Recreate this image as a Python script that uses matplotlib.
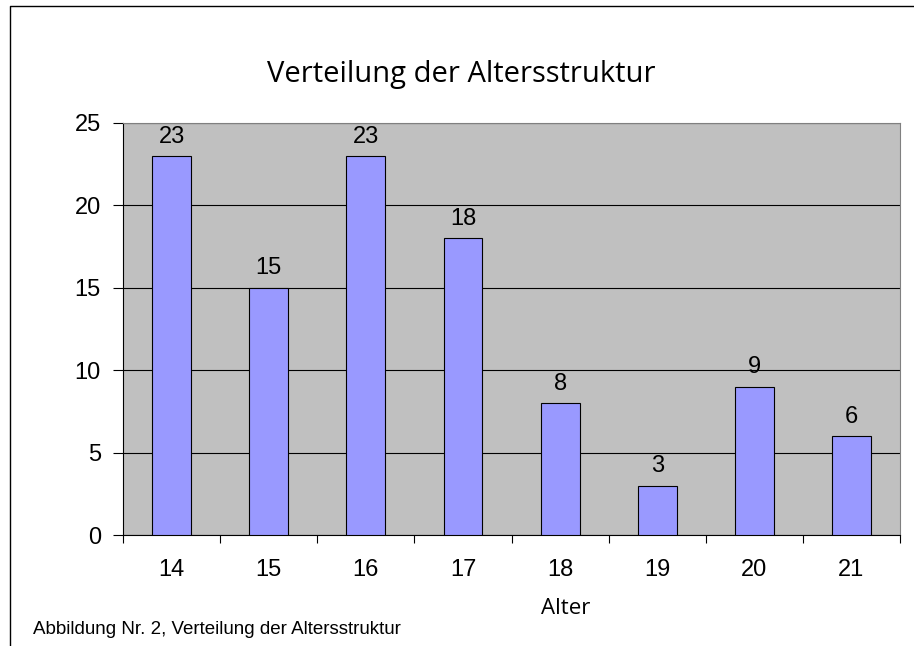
import matplotlib
matplotlib.use("Agg")
import matplotlib.pyplot as plt
from matplotlib.lines import Line2D

# Daten: Altersstruktur
alter = ["14", "15", "16", "17", "18", "19", "20", "21"]
anzahl = [23, 15, 23, 18, 8, 3, 9, 6]

fig = plt.figure(figsize=(9.14, 6.46), dpi=100)
ax = fig.add_axes([0.1346, 0.1718, 0.8501, 0.6378])

x = range(len(alter))
bars = ax.bar(x, anzahl, width=0.4, color="#9999FF", edgecolor="black", linewidth=0.8, zorder=3)

for b, v in zip(bars, anzahl):
    ax.annotate(str(v), (b.get_x() + b.get_width() / 2, v), xytext=(0, 6),
                textcoords="offset points", ha="center", va="bottom",
                fontsize=17, family="Liberation Sans")

ax.set_facecolor("#C0C0C0")
ax.set_xlim(-0.5, len(alter) - 0.5)
ax.set_ylim(0, 25)
ax.set_yticks([0, 5, 10, 15, 20, 25])
ax.yaxis.grid(True, color="black", linewidth=0.8, zorder=1)
ax.set_axisbelow(True)

# x-Ticks zwischen den Kategorien, Beschriftung mittig
ax.set_xticks([i - 0.5 for i in range(len(alter) + 1)])
ax.set_xticklabels([])
ax.set_xticks(list(x), minor=True)
ax.set_xticklabels(alter, minor=True, fontsize=17, family="Liberation Sans")
ax.tick_params(axis="x", which="major", length=6, direction="out", width=0.8)
ax.tick_params(axis="x", which="minor", length=0, pad=17)
ax.tick_params(axis="y", length=7, width=0.8, labelsize=17, pad=9)
for lbl in ax.get_yticklabels():
    lbl.set_family("Liberation Sans")

ax.spines["left"].set_color("black")
ax.spines["bottom"].set_color("black")
ax.spines["top"].set_color("#808080")
ax.spines["right"].set_color("#808080")

fig.text(0.505, 0.884, "Verteilung der Altersstruktur", ha="center", va="center",
         fontsize=21, family="Open Sans")
fig.text(0.619, 0.058, "Alter", ha="center", va="center", fontsize=16, family="Open Sans")
fig.text(0.036, 0.025, "Abbildung Nr. 2, Verteilung der Altersstruktur", ha="left",
         va="center", fontsize=13.5, family="Liberation Sans")

# Rahmen (nur links und oben sichtbar)
fig.add_artist(Line2D([0.0109, 0.0109, 1.0], [0.0, 0.9907, 0.9907],
                      transform=fig.transFigure, color="black", linewidth=1))

fig.savefig("out.png", dpi=100)
